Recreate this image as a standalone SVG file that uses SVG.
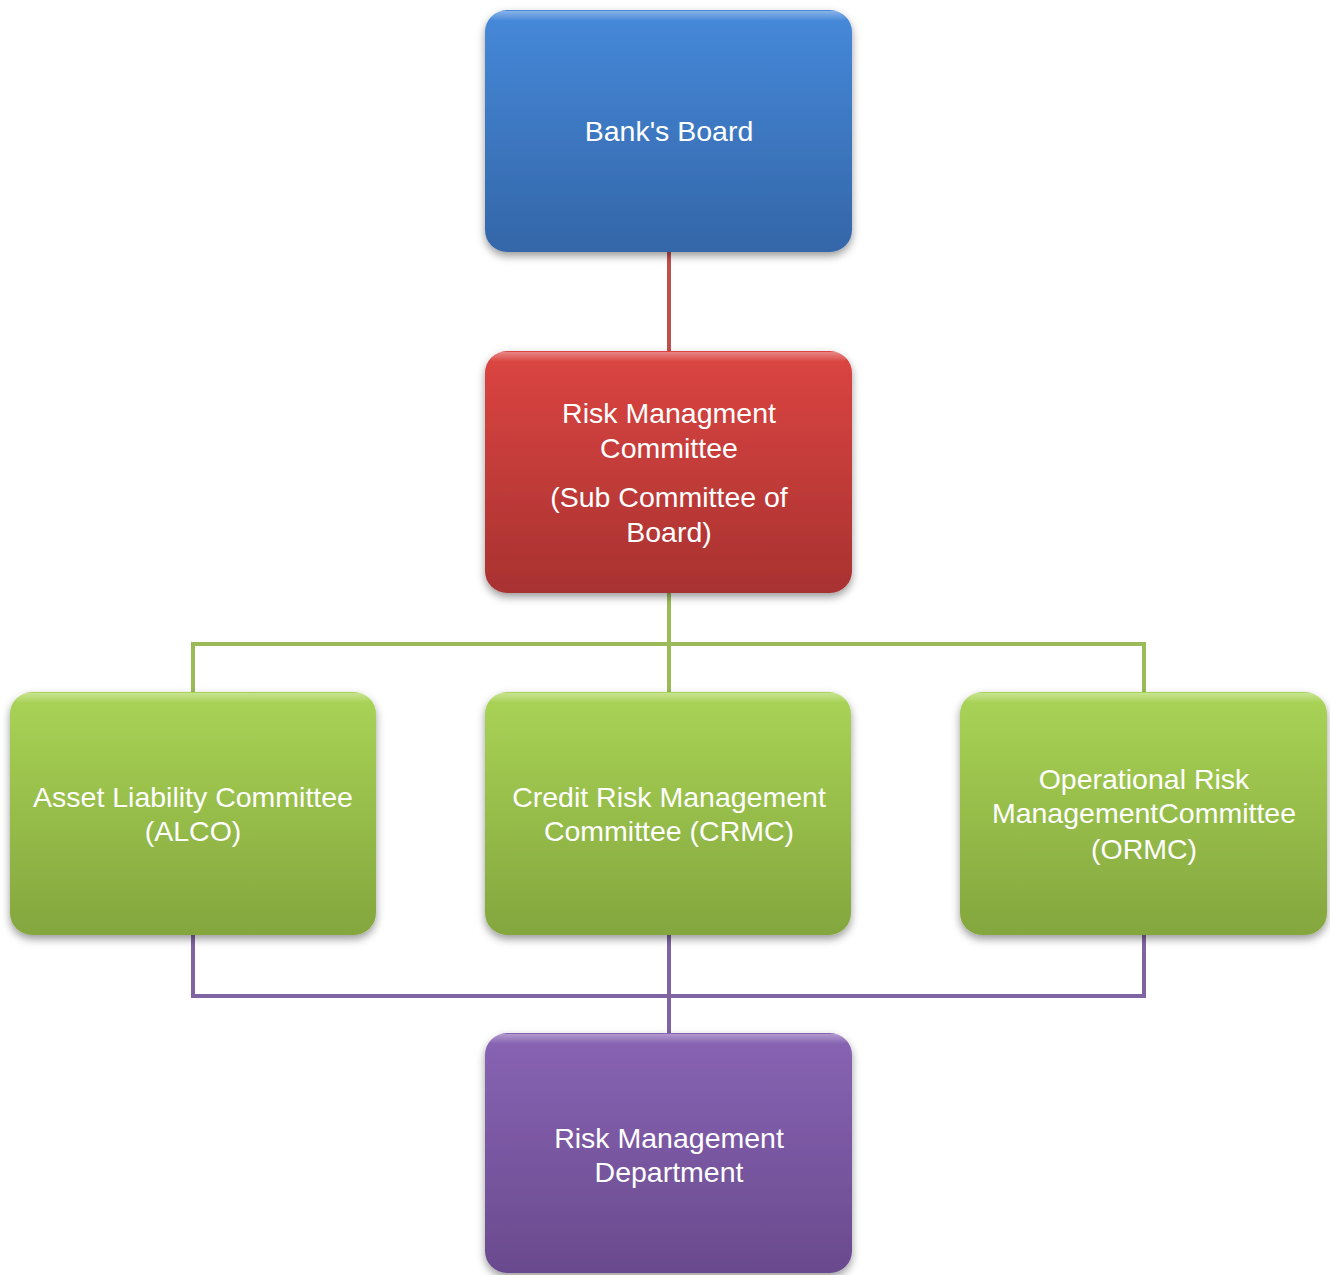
<svg xmlns="http://www.w3.org/2000/svg" width="1330" height="1275" viewBox="0 0 1330 1275">
<style>
.lbl{font-family:"Liberation Sans",Arial,sans-serif;font-size:28.5px;fill:#ffffff;text-anchor:middle}
.con{fill:none;stroke-width:4;stroke-linecap:square}
.box{filter:url(#sh)}
.hl{fill:url(#hl)}
</style>
<defs>
<linearGradient id="gB" x1="0" y1="0" x2="0" y2="1"><stop offset="0" stop-color="#4689da"/><stop offset="1" stop-color="#3466a8"/></linearGradient>
<linearGradient id="gR" x1="0" y1="0" x2="0" y2="1"><stop offset="0" stop-color="#dc4542"/><stop offset="1" stop-color="#a83230"/></linearGradient>
<linearGradient id="gG" x1="0" y1="0" x2="0" y2="1"><stop offset="0" stop-color="#a9d456"/><stop offset="1" stop-color="#84a63e"/></linearGradient>
<linearGradient id="gP" x1="0" y1="0" x2="0" y2="1"><stop offset="0" stop-color="#8864b4"/><stop offset="1" stop-color="#6a4a8e"/></linearGradient>
<linearGradient id="hl" x1="0" y1="0" x2="0" y2="1"><stop offset="0" stop-color="#ffffff" stop-opacity="0.35"/><stop offset="1" stop-color="#ffffff" stop-opacity="0"/></linearGradient>
<filter id="sh" x="-10%" y="-10%" width="120%" height="125%"><feDropShadow dx="0" dy="4" stdDeviation="4" flood-color="#000" flood-opacity="0.4"/></filter>
</defs>
<g id="connectors">
<line class="con" x1="669" y1="252" x2="669" y2="351" stroke="#c0504d"/>
<path class="con" d="M669 593V692M193 692V644H1144V692" stroke="#9bbb59"/>
<path class="con" d="M193 935V996H1144V935M669 935V1033" stroke="#8064a2"/>
</g>
<g id="n-board">
<rect class="box" x="485" y="10" width="367" height="242" rx="22" fill="url(#gB)"/>
<rect class="hl" x="490" y="11" width="357" height="10" rx="5"/>
<text class="lbl" x="669" y="141">Bank's Board</text>
</g>
<g id="n-rmc">
<rect class="box" x="485" y="351" width="367" height="242" rx="22" fill="url(#gR)"/>
<rect class="hl" x="490" y="352" width="357" height="10" rx="5"/>
<text class="lbl" x="669" y="423">Risk Managment</text>
<text class="lbl" x="669" y="458">Committee</text>
<text class="lbl" x="669" y="507">(Sub Committee of</text>
<text class="lbl" x="669" y="542">Board)</text>
</g>
<g id="n-alco">
<rect class="box" x="10" y="692" width="366" height="243" rx="22" fill="url(#gG)"/>
<rect class="hl" x="15" y="693" width="356" height="10" rx="5"/>
<text class="lbl" x="193" y="807">Asset Liability Committee</text>
<text class="lbl" x="193" y="841">(ALCO)</text>
</g>
<g id="n-crmc">
<rect class="box" x="485" y="692" width="366" height="243" rx="22" fill="url(#gG)"/>
<rect class="hl" x="490" y="693" width="356" height="10" rx="5"/>
<text class="lbl" x="669" y="807">Credit Risk Management</text>
<text class="lbl" x="669" y="841">Committee (CRMC)</text>
</g>
<g id="n-ormc">
<rect class="box" x="960" y="692" width="367" height="243" rx="22" fill="url(#gG)"/>
<rect class="hl" x="965" y="693" width="357" height="10" rx="5"/>
<text class="lbl" x="1144" y="789">Operational Risk</text>
<text class="lbl" x="1144" y="823">ManagementCommittee</text>
<text class="lbl" x="1144" y="859">(ORMC)</text>
</g>
<g id="n-rmd">
<rect class="box" x="485" y="1033" width="367" height="240" rx="22" fill="url(#gP)"/>
<rect class="hl" x="490" y="1034" width="357" height="10" rx="5"/>
<text class="lbl" x="669" y="1148">Risk Management</text>
<text class="lbl" x="669" y="1182">Department</text>
</g>
</svg>
